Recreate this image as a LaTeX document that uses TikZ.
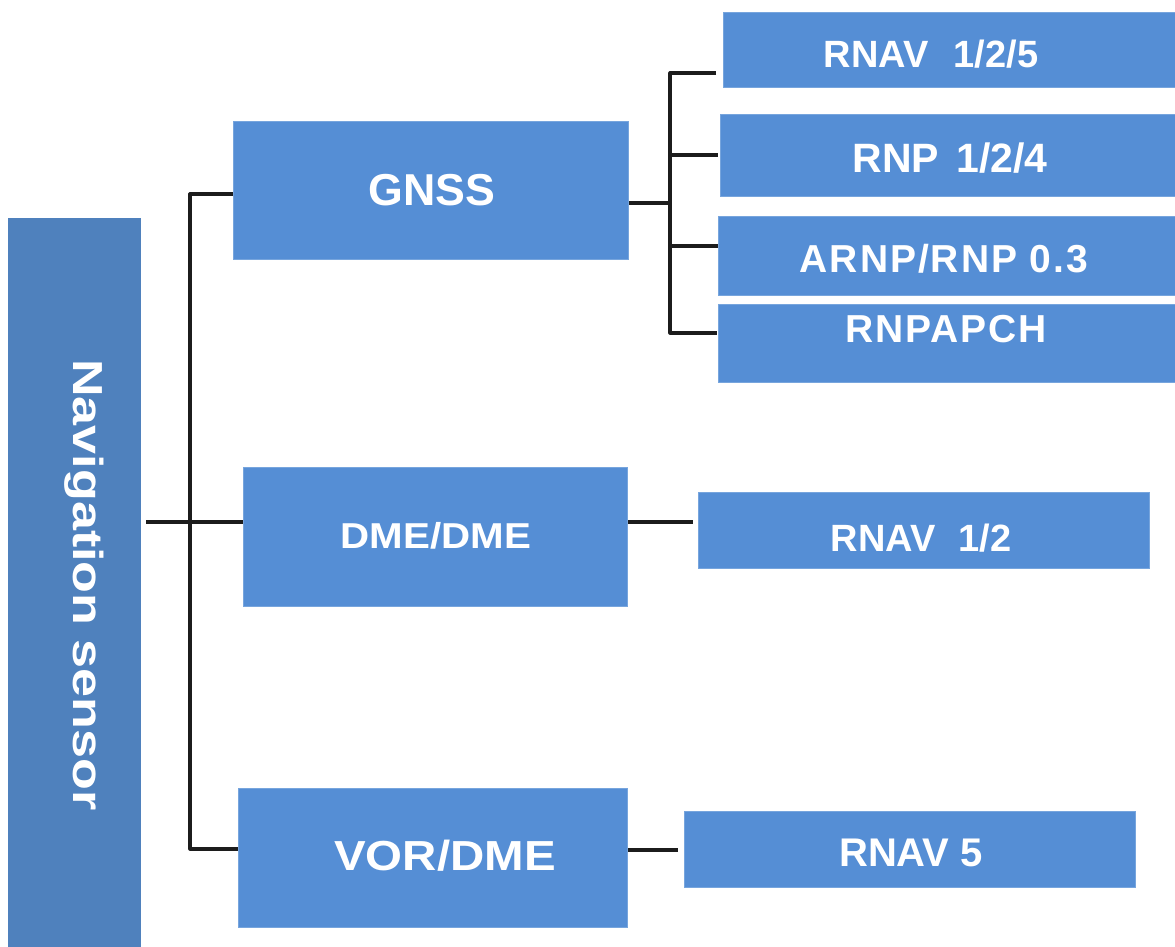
\documentclass[tikz,border=0pt]{standalone}
\usepackage{fontspec}
\usepackage{graphicx}
\setmainfont{Liberation Sans}
\newfontfamily\lsA[LetterSpace=5]{Liberation Sans}
\newfontfamily\lsB[LetterSpace=5]{Liberation Sans}
\definecolor{boxblue}{HTML}{558ED5}
\definecolor{navblue}{HTML}{4F81BD}
\definecolor{linecol}{HTML}{1C1C1C}
\newcommand\fs[1]{\fontsize{#1}{#1}\selectfont\bfseries}
\begin{document}
\begin{tikzpicture}[x=1pt,y=-1pt,
  box/.style={fill=boxblue,draw=boxblue!80!white,line width=0.8pt,inner sep=0pt,anchor=north west},
  navbox/.style={fill=navblue,inner sep=0pt,anchor=north west},
  lbl/.style={text=white,inner sep=0pt,anchor=base},
  conn/.style={draw=linecol,line width=3.2pt,line join=round}]
\useasboundingbox (0,0) rectangle (1175,947);
% boxes
\node[navbox,minimum width=133pt,minimum height=729pt] (nav) at (8,218) {};
\node[box,minimum width=395pt,minimum height=138pt] (gnss) at (233,121) {};
\node[box,minimum width=384pt,minimum height=139pt] (dme) at (243,467) {};
\node[box,minimum width=389pt,minimum height=139pt] (vor) at (238,788) {};
\node[box,minimum width=455pt,minimum height=75pt] (r125) at (723,12) {};
\node[box,minimum width=458pt,minimum height=82pt] (r124) at (720,114) {};
\node[box,minimum width=460pt,minimum height=79pt] (arnp) at (718,216) {};
\node[box,minimum width=460pt,minimum height=78pt] (apch) at (718,304) {};
\node[box,minimum width=451pt,minimum height=76pt] (r12) at (698,492) {};
\node[box,minimum width=451pt,minimum height=76pt] (r5) at (684,811) {};
% labels
\node[lbl,rotate=-90] (navt) at (73,585) {\scalebox{1.24}[1]{\fs{42}Navigation sensor}};
\node[lbl] (gnsst) at (432,205) {\fs{44.7}GNSS};
\node[lbl] (dmet) at (436,548) {\scalebox{1.12}[1]{\fs{36}DME/DME}};
\node[lbl] (vort) at (445,870) {\scalebox{1.13}[1]{\fs{42}VOR/DME}};
\node[lbl] (r125t) at (931,68) {\fs{38}RNAV\hspace{0.66em}1/2/5};
\node[lbl] (r124t) at (950,172) {\fs{41}RNP\hspace{0.42em}1/2/4};
\node[lbl] (arnpt) at (944,272) {\lsA\fs{39}ARNP/RNP 0.3};
\node[lbl] (apcht) at (946,342) {\lsB\fs{39}RNPAPCH};
\node[lbl] (r12t) at (921,551) {\fs{38}RNAV\hspace{0.6em}1/2};
\node[lbl] (r5t) at (911,866) {\fs{40}RNAV 5};
% connectors: left tree
\coordinate (jl) at (190,522);
\coordinate (jtop) at (190,194);
\coordinate (jbot) at (190,849);
\draw[conn] ([xshift=5pt]nav.east |- jl) -- (dme.west |- jl);
\draw[conn] (gnss.west |- jtop) -- (jtop) -- (jbot) -- (vor.west |- jbot);
% connectors: GNSS tree
\coordinate (jg) at (670,203);
\coordinate (ga) at (670,73);
\coordinate (gb) at (670,155);
\coordinate (gc) at (670,246);
\coordinate (gd) at (670,333);
\draw[conn] (gnss.east |- jg) -- (jg);
\draw[conn] ([xshift=-7pt]r125.west |- ga) -- (ga) -- (gd) -- ([xshift=-1pt]apch.west |- gd);
\draw[conn] (gb) -- ([xshift=-2pt]r124.west |- gb);
\draw[conn] (gc) -- (arnp.west |- gc);
% single connectors
\coordinate (d1) at (628,522);
\coordinate (v1) at (628,850);
\draw[conn] (d1) -- ([xshift=-5pt]r12.west |- d1);
\draw[conn] (v1) -- ([xshift=-6pt]r5.west |- v1);
\end{tikzpicture}
\end{document}
